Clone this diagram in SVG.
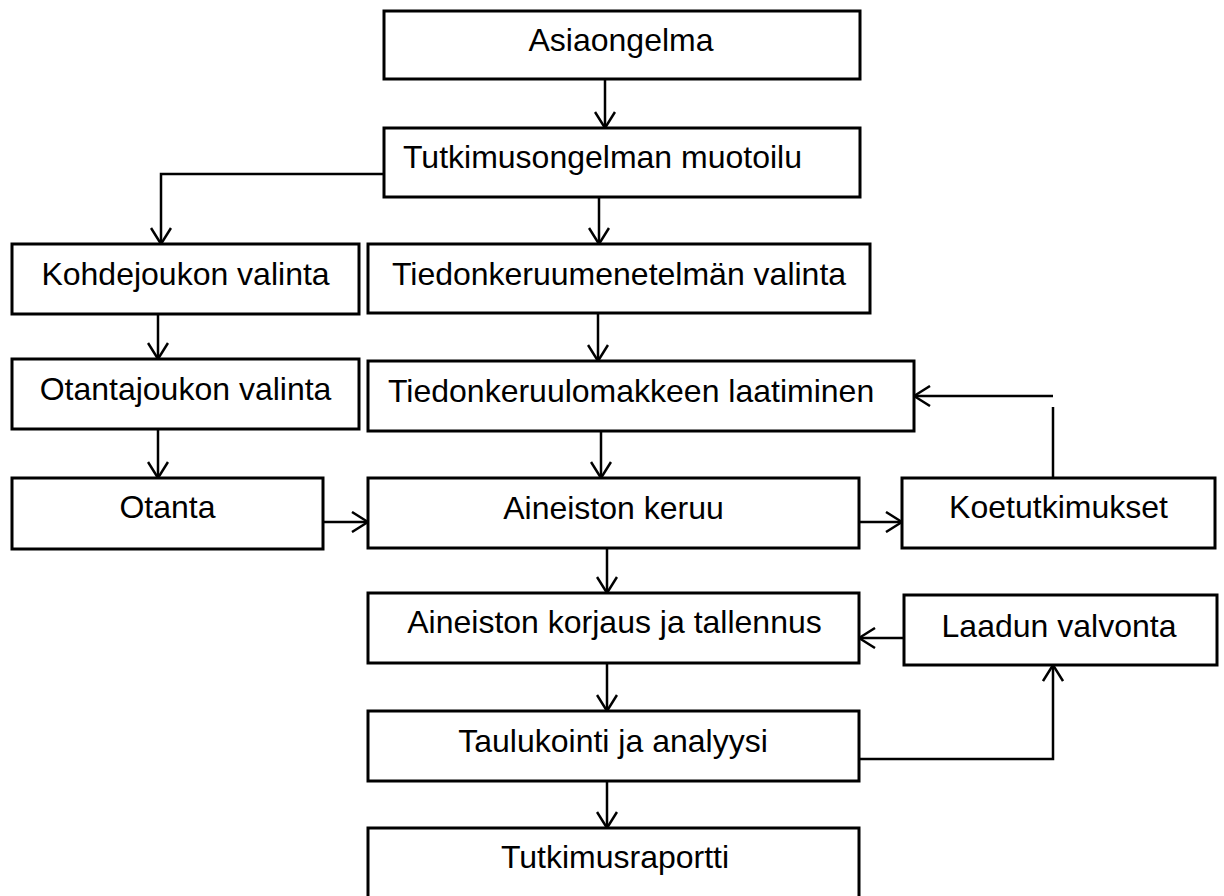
<svg xmlns="http://www.w3.org/2000/svg" width="1224" height="896" viewBox="0 0 1224 896">
  <style>
    .box { fill: #ffffff; stroke: #000000; stroke-width: 3; }
    .lbl { font-family: "Liberation Sans", Arial, sans-serif; font-size: 32px; fill: #000000; }
    .mid { text-anchor: middle; }
    .edge { fill: none; stroke: #000000; stroke-width: 2.5; }
  </style>
  <defs>
    <marker id="arrow" viewBox="0 0 18 22" refX="17" refY="11" markerWidth="18" markerHeight="22" markerUnits="userSpaceOnUse" orient="auto">
      <path d="M1,1 L17,11 L1,21" fill="none" stroke="#000000" stroke-width="2.5"/>
    </marker>
  </defs>
  <rect width="1224" height="896" fill="#ffffff"/>

  <!-- process steps -->
  <g id="asiaongelma">
    <rect class="box" x="384" y="11" width="476" height="68"/>
    <text class="lbl mid" x="621" y="51">Asiaongelma</text>
  </g>
  <g id="tutkimusongelman-muotoilu">
    <rect class="box" x="384" y="128" width="476" height="69"/>
    <text class="lbl" x="403" y="168">Tutkimusongelman muotoilu</text>
  </g>
  <g id="kohdejoukon-valinta">
    <rect class="box" x="12" y="244" width="347" height="70"/>
    <text class="lbl mid" x="185.5" y="285">Kohdejoukon valinta</text>
  </g>
  <g id="tiedonkeruumenetelman-valinta">
    <rect class="box" x="368" y="244" width="502" height="69"/>
    <text class="lbl mid" x="619" y="285">Tiedonkeruumenetelmän valinta</text>
  </g>
  <g id="otantajoukon-valinta">
    <rect class="box" x="12" y="359" width="347" height="70"/>
    <text class="lbl mid" x="185.5" y="400">Otantajoukon valinta</text>
  </g>
  <g id="tiedonkeruulomakkeen-laatiminen">
    <rect class="box" x="368" y="361" width="546" height="70"/>
    <text class="lbl" x="388" y="402">Tiedonkeruulomakkeen laatiminen</text>
  </g>
  <g id="otanta">
    <rect class="box" x="12" y="478" width="311" height="71"/>
    <text class="lbl mid" x="167.5" y="518">Otanta</text>
  </g>
  <g id="aineiston-keruu">
    <rect class="box" x="368" y="478" width="491" height="70"/>
    <text class="lbl mid" x="613.5" y="519">Aineiston keruu</text>
  </g>
  <g id="koetutkimukset">
    <rect class="box" x="902" y="478" width="313" height="70"/>
    <text class="lbl mid" x="1058.5" y="518">Koetutkimukset</text>
  </g>
  <g id="aineiston-korjaus">
    <rect class="box" x="368" y="593" width="491" height="70"/>
    <text class="lbl mid" x="614.5" y="633">Aineiston korjaus ja tallennus</text>
  </g>
  <g id="laadun-valvonta">
    <rect class="box" x="904" y="595" width="313" height="70"/>
    <text class="lbl mid" x="1059" y="637">Laadun valvonta</text>
  </g>
  <g id="taulukointi">
    <rect class="box" x="368" y="711" width="491" height="70"/>
    <text class="lbl mid" x="613" y="752">Taulukointi ja analyysi</text>
  </g>
  <g id="tutkimusraportti">
    <rect class="box" x="368" y="828" width="491" height="80"/>
    <text class="lbl mid" x="615" y="868">Tutkimusraportti</text>
  </g>

  <!-- connectors -->
  <g id="connectors">
    <path class="edge" d="M605,79 V128" marker-end="url(#arrow)"/>
    <path class="edge" d="M384,174 H161 V244" marker-end="url(#arrow)"/>
    <path class="edge" d="M599,197 V244" marker-end="url(#arrow)"/>
    <path class="edge" d="M598,313 V361" marker-end="url(#arrow)"/>
    <path class="edge" d="M601,431 V478" marker-end="url(#arrow)"/>
    <path class="edge" d="M607,548 V593" marker-end="url(#arrow)"/>
    <path class="edge" d="M607,663 V711" marker-end="url(#arrow)"/>
    <path class="edge" d="M607,781 V828" marker-end="url(#arrow)"/>
    <path class="edge" d="M158,314 V359" marker-end="url(#arrow)"/>
    <path class="edge" d="M158,429 V478" marker-end="url(#arrow)"/>
    <path class="edge" d="M323,522 H368" marker-end="url(#arrow)"/>
    <path class="edge" d="M859,522 H902" marker-end="url(#arrow)"/>
    <path class="edge" d="M1053,478 V407"/>
    <path class="edge" d="M1053,396 H914" marker-end="url(#arrow)"/>
    <path class="edge" d="M904,638 H859" marker-end="url(#arrow)"/>
    <path class="edge" d="M859,759 H1053 V665" marker-end="url(#arrow)"/>
  </g>
</svg>
